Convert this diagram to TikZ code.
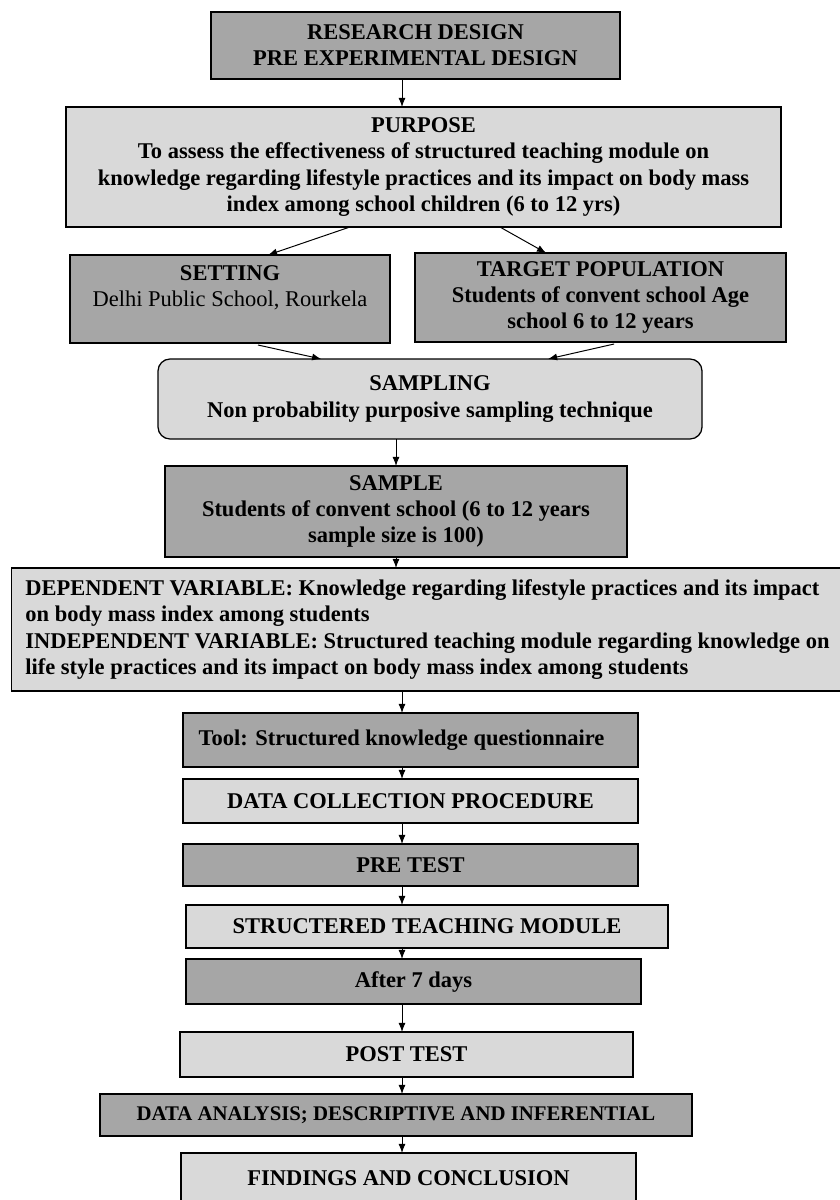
\documentclass[tikz,border=0pt]{standalone}
\usepackage{fontspec}
\setmainfont{Liberation Serif}
\usepackage{xcolor}
\usepackage{tikz}
\usetikzlibrary{shapes.geometric, arrows.meta, positioning, calc}
\definecolor{boxdark}{HTML}{A6A6A6}
\definecolor{boxlight}{HTML}{D9D9D9}
\newcommand{\boxfont}{\fontsize{16}{18.6}\selectfont\bfseries}
\tikzstyle{darkbox} = [rectangle, draw=black, fill=boxdark, line width=0.9pt, inner sep=0pt, outer sep=0pt, align=center, font=\boxfont]
\tikzstyle{lightbox} = [rectangle, draw=black, fill=boxlight, line width=0.9pt, inner sep=0pt, outer sep=0pt, align=center, font=\boxfont]
\tikzstyle{arrow} = [line width=0.7pt,-{Latex[length=6.5pt,width=5pt]}]

\begin{document}
\begin{tikzpicture}[node distance=0.5cm]
        \useasboundingbox (0,0) rectangle (20.975,-30);
        \coordinate (axis) at (10.05,0);

        \node (design) [darkbox, minimum width=10.225cm, minimum height=1.675cm] at (10.3875,-1.1375) {RESEARCH DESIGN\\PRE EXPERIMENTAL DESIGN};
        \node (purpose) [lightbox, minimum width=17.875cm, minimum height=3cm, below=0.7cm of design, xshift=0.2cm] {PURPOSE\\To assess the effectiveness of structured teaching module on\\knowledge regarding lifestyle practices and its impact on body mass\\index among school children (6 to 12 yrs)};
        \node (setting) [darkbox, minimum width=8cm, minimum height=2.2cm, below=0.7cm of purpose, xshift=-4.8375cm] {SETTING\\{\mdseries Delhi Public School, Rourkela}\\\mbox{}};
        \node (target) [darkbox, minimum width=9.275cm, minimum height=2.225cm, below=0.65cm of purpose, xshift=4.425cm] {TARGET POPULATION\\Students of convent school Age\\school 6 to 12 years};
        \node (sampling) [lightbox, rounded corners=0.3cm, minimum width=13.6cm, minimum height=2cm, below=0.4cm of setting, xshift=5cm] {SAMPLING\\Non probability purposive sampling technique};
        \node (sample) [darkbox, minimum width=11.55cm, minimum height=2.275cm, below=0.675cm of sampling, xshift=-0.85cm] {SAMPLE\\Students of convent school (6 to 12 years\\sample size is 100)};
        \node (variables) [lightbox, align=left, minimum width=20.8cm, minimum height=3.075cm, below=0.275cm of sample, xshift=0.7875cm] {DEPENDENT VARIABLE: Knowledge regarding lifestyle practices and its impact\\on body mass index among students\\INDEPENDENT VARIABLE: Structured teaching module regarding knowledge on\\life style practices and its impact on body mass index among students};
        \node (tool) [darkbox, minimum width=11.375cm, minimum height=1.35cm, below=0.55cm of variables, xshift=-0.425cm] {Tool: Structured knowledge questionnaire\hspace{0.45cm}};
        \node (collection) [lightbox, minimum width=11.375cm, minimum height=1.1cm, below=0.3cm of tool] {DATA COLLECTION PROCEDURE};
        \node (pretest) [darkbox, minimum width=11.375cm, minimum height=1.05cm, below=0.525cm of collection] {PRE TEST};
        \node (teaching) [lightbox, minimum width=12.05cm, minimum height=1.075cm, below=0.475cm of pretest, xshift=0.4125cm] {STRUCTERED TEACHING MODULE};
        \node (after) [darkbox, minimum width=11.375cm, minimum height=1.125cm, below=0.275cm of teaching, xshift=-0.3375cm] {After 7 days};
        \node (posttest) [lightbox, minimum width=11.325cm, minimum height=1.125cm, below=0.7cm of after, xshift=-0.175cm] {POST TEST};
        \node (analysis) [darkbox, font=\fontsize{14.8}{17}\selectfont\bfseries, minimum width=14.8cm, minimum height=1.05cm, below=0.425cm of posttest, xshift=-0.2625cm] {DATA ANALYSIS; DESCRIPTIVE AND INFERENTIAL};
        \node (findings) [lightbox, minimum width=11.375cm, minimum height=1.25cm, below=0.425cm of analysis, xshift=0.3125cm] {FINDINGS AND CONCLUSION};

        \draw [arrow] (design.south -| axis) -- (purpose.north -| axis);
        \draw [arrow] ([xshift=-1.84cm]purpose.south) -- ([xshift=0.95cm]setting.north);
        \draw [arrow] ([xshift=1.91cm]purpose.south) -- ([xshift=-1.36cm]target.north);
        \draw [arrow] ([xshift=0.7cm,yshift=-0.05cm]setting.south) -- ([xshift=-2.72cm]sampling.north);
        \draw [arrow] ([xshift=0.34cm,yshift=-0.05cm]target.south) -- ([xshift=2.95cm]sampling.north);
        \draw [arrow] (sampling.south -| sample.south) -- (sample.north);
        \draw [arrow] (sample.south) -- (variables.north -| sample.south);
        \draw [arrow] (variables.south -| axis) -- (tool.north -| axis);
        \draw [arrow] (tool.south -| axis) -- (collection.north -| axis);
        \draw [arrow] (collection.south -| axis) -- (pretest.north -| axis);
        \draw [arrow] (pretest.south -| axis) -- (teaching.north -| axis);
        \draw [arrow] (teaching.south -| axis) -- (after.north -| axis);
        \draw [arrow] (after.south -| axis) -- (posttest.north -| axis);
        \draw [arrow] (posttest.south -| axis) -- (analysis.north -| axis);
        \draw [arrow] (analysis.south -| axis) -- (findings.north -| axis);
    \end{tikzpicture}
\end{document}
